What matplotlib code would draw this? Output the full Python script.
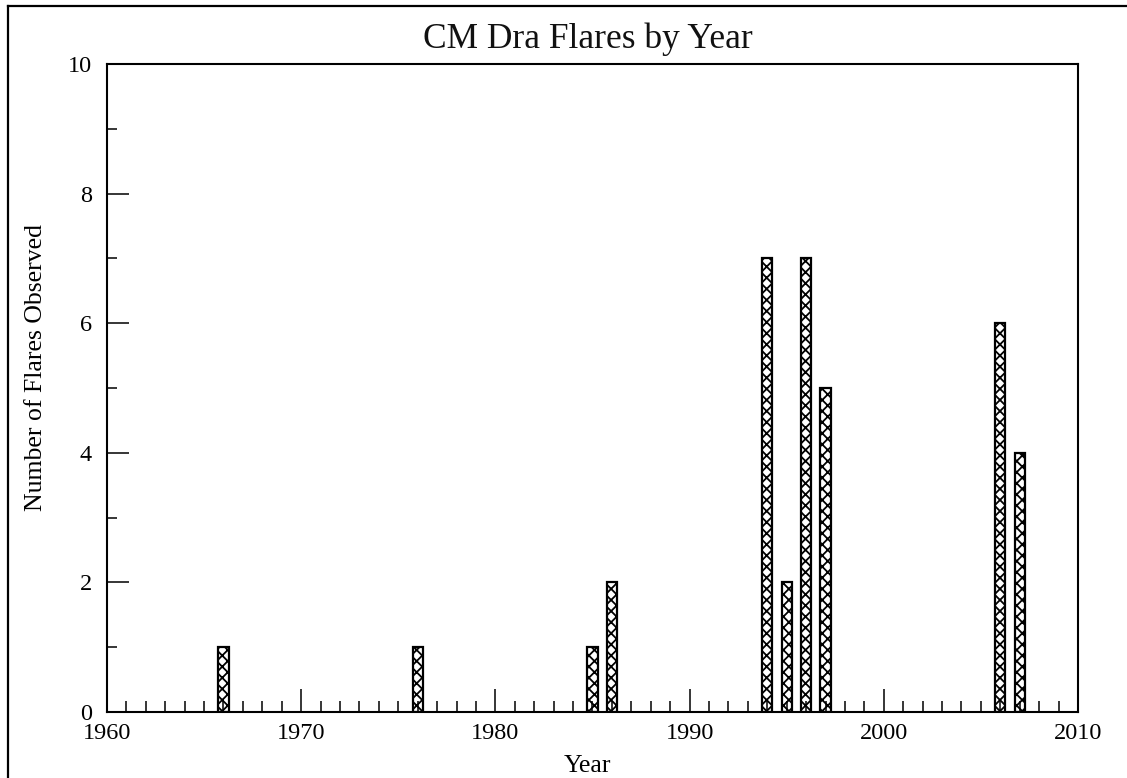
import matplotlib
matplotlib.use("Agg")
import matplotlib.pyplot as plt
import numpy as np
from matplotlib.ticker import MultipleLocator

# flares counted per year
years = np.array([1966, 1976, 1985, 1986, 1994, 1995, 1996, 1997, 2006, 2007])
flares = np.array([1, 1, 1, 2, 7, 2, 7, 5, 6, 4])

plt.rcParams['font.family'] = ['Liberation Serif', 'DejaVu Serif']
plt.rcParams['hatch.linewidth'] = 1.3

fig = plt.figure(figsize=(11.27, 7.78), dpi=100)
ax = fig.add_axes([0.0949, 0.0848, 0.8616, 0.8329])

ax.bar(years, flares, width=0.52, color='white', edgecolor='black',
       hatch='xxx', linewidth=1.6)

ax.set_xlim(1960, 2010)
ax.set_ylim(0, 10)
ax.xaxis.set_major_locator(MultipleLocator(10))
ax.xaxis.set_minor_locator(MultipleLocator(1))
ax.yaxis.set_major_locator(MultipleLocator(2))
ax.yaxis.set_minor_locator(MultipleLocator(1))
ax.tick_params(which='both', direction='in', top=False, right=False,
               width=1.1, colors='black')
ax.tick_params(axis='x', which='major', length=16.5, pad=8, labelsize=17.5)
ax.tick_params(axis='x', which='minor', length=8)
ax.tick_params(axis='y', which='major', length=16, pad=11, labelsize=17.5)
ax.tick_params(axis='y', which='minor', length=7.5)
for s in ax.spines.values():
    s.set_linewidth(1.5)

ax.set_xlabel('Year', fontsize=18.5)
ax.xaxis.set_label_coords(0.495, -0.067)
ax.set_ylabel('Number of Flares Observed', fontsize=18.5)
ax.yaxis.set_label_coords(-0.062, 0.532)

fig.text(0.5217, 1 - 48 / 778, 'CM Dra Flares by Year', fontsize=25.5,
         ha='center', va='baseline', color='#111111')

# frame edges at the top and left of the picture
fig.add_artist(plt.Line2D([8 / 1127, 8 / 1127], [0, 1 - 6 / 778],
                          color='black', linewidth=1.6, transform=fig.transFigure))
fig.add_artist(plt.Line2D([8 / 1127, 1], [1 - 6 / 778, 1 - 6 / 778],
                          color='black', linewidth=1.6, transform=fig.transFigure))

fig.savefig('out.png', dpi=100)
